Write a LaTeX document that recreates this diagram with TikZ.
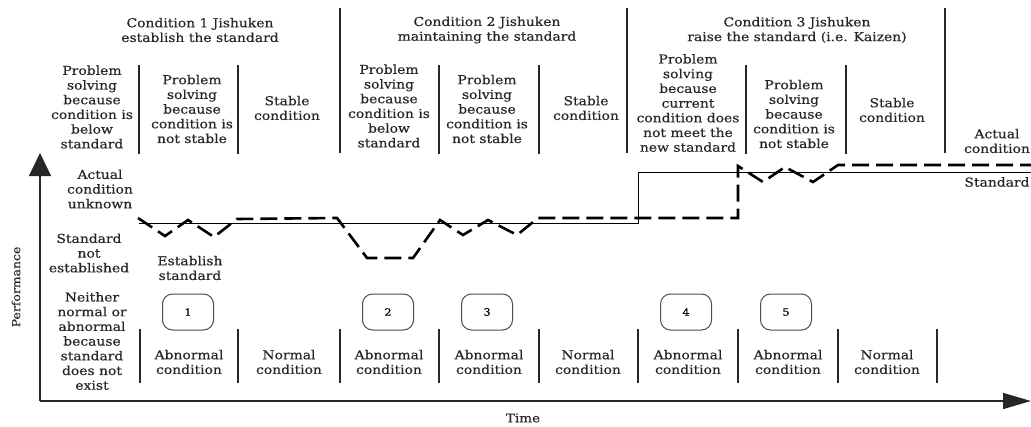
\documentclass[tikz,border=0pt]{standalone}
\usepackage{fontspec}
\setmainfont{DejaVu Serif}[FakeStretch=1.13, FakeBold=0.4]
\usetikzlibrary{arrows.meta}

\tikzset{
  lbl/.style={align=center, inner sep=0pt, text=black!85,
    font=\fontsize{12.3}{14.7}\selectfont},
  small/.style={align=center, inner sep=0pt, text=black!85,
    font=\fontsize{11}{13}\selectfont},
  sep/.style={line width=1.2pt, black!85},
  axis/.style={line width=1.4pt, black!85},
  stdline/.style={line width=0.9pt, black},
  actual/.style={line width=2.6pt, black, dash pattern=on 17pt off 7pt,
    line join=miter},
  numbox/.style={draw=black!70, line width=1pt, rounded corners=10pt,
    minimum width=51pt, minimum height=36pt, inner sep=0pt,
    font=\fontsize{10}{12}\selectfont},
}

\begin{document}
\begin{tikzpicture}[x=1pt,y=-1pt]
\useasboundingbox (0,0) rectangle (1031,426);

% axes
\coordinate (o) at (40,401);
\coordinate (ytop) at (40,153);
\coordinate (xend) at (1031,401);
\draw[axis, -{Triangle[length=23pt,width=22pt]}] (o) -- (ytop);
\draw[axis, -{Triangle[length=28pt,width=16pt]}] (o) -- (xend);
\node[small, rotate=90] (perf) at (16,287) {Performance};
\node[small, font=\fontsize{12}{14}\selectfont] (time) at (523,418) {Time};

% phase separators (upper band)
\foreach \x in {340,627,945} \draw[sep] (\x,8) -- (\x,153);
\foreach \x in {139,238,439,539,746,846} \draw[sep] (\x,65) -- (\x,154);

% condition separators (lower band)
\foreach \x in {140,238,340,439,539,638,738,838,937} \draw[sep] (\x,329) -- (\x,383);

% phase headings
\node[lbl] (h1) at (200,30) {Condition 1 Jishuken\\establish the standard};
\node[lbl] (h2) at (487,30) {Condition 2 Jishuken\\maintaining the standard};
\node[lbl] (h3) at (797,30) {Condition 3 Jishuken\\raise the standard (i.e. Kaizen)};

% column descriptions
\node[lbl] (c11) at (92,107) {Problem\\solving\\because\\condition is\\below\\standard};
\node[lbl] (c12) at (192,109) {Problem\\solving\\because\\condition is\\not stable};
\node[lbl] (c13) at (287,108) {Stable\\condition};
\node[lbl] (c21) at (389,106) {Problem\\solving\\because\\condition is\\below\\standard};
\node[lbl] (c22) at (487,109) {Problem\\solving\\because\\condition is\\not stable};
\node[lbl] (c23) at (586,108) {Stable\\condition};
\node[lbl] (c31) at (688,103) {Problem\\solving\\because\\current\\condition does\\not meet the\\new standard};
\node[lbl] (c32) at (794,114) {Problem\\solving\\because\\condition is\\not stable};
\node[lbl] (c33) at (892,110) {Stable\\condition};
\node[lbl] (act) at (997,141) {Actual\\condition};
\node[lbl] (std) at (997,182) {Standard};

% left-hand labels
\node[lbl] (unk) at (100,189) {Actual\\condition\\unknown};
\node[lbl] (nostd) at (89,253) {Standard\\not\\established};
\node[lbl] (estab) at (190,268) {Establish\\standard};
\node[lbl] (neither) at (92,341) {Neither\\normal or\\abnormal\\because\\standard\\does not\\exist};

% numbered events
\node[numbox] (n1) at (188,312) {1};
\node[numbox] (n2) at (388,312) {2};
\node[numbox] (n3) at (487,312) {3};
\node[numbox] (n4) at (686,312) {4};
\node[numbox] (n5) at (786,312) {5};

% condition labels
\node[lbl] (b1) at (189,362) {Abnormal\\condition};
\node[lbl] (b2) at (289,362) {Normal\\condition};
\node[lbl] (b3) at (389,362) {Abnormal\\condition};
\node[lbl] (b4) at (489,362) {Abnormal\\condition};
\node[lbl] (b5) at (588,362) {Normal\\condition};
\node[lbl] (b6) at (688,362) {Abnormal\\condition};
\node[lbl] (b7) at (788,362) {Abnormal\\condition};
\node[lbl] (b8) at (887,362) {Normal\\condition};

% standard level
\draw[stdline] (139,223) -- (638,223) -- (638,172) -- (1040,172);

% actual performance
\draw[actual] (138,218) -- (165,236) -- (188,220) -- (214,237) -- (237,219)
  -- (337,218) -- (367,258) -- (413,258) -- (440,220) -- (463,235)
  -- (488,220) -- (517,235) -- (538,218) -- (738,218) -- (738,166)
  -- (763,182) -- (785,167) -- (813,182) -- (838,165) -- (1040,165);
\end{tikzpicture}
\end{document}
